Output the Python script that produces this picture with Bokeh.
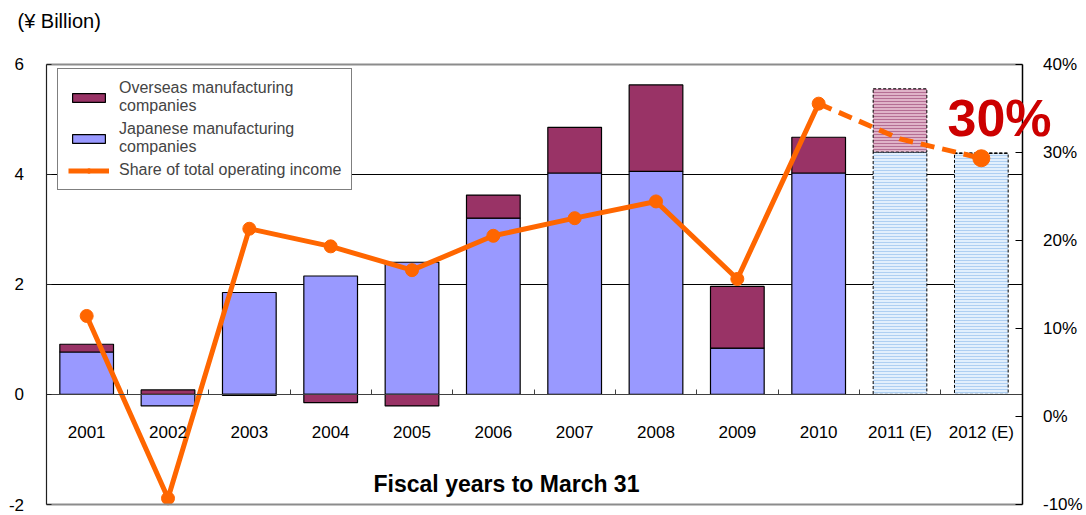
from bokeh.plotting import figure
from bokeh.models import (Range1d, LinearAxis, FixedTicker, Legend, LegendItem,
                          Label, ColumnDataSource)
from bokeh.embed import file_html
from bokeh.resources import INLINE
from bokeh.core.properties import value

# ---------------- data ----------------
years = ["2001", "2002", "2003", "2004", "2005", "2006", "2007", "2008",
         "2009", "2010", "2011 (E)", "2012 (E)"]
estimated = [False] * 10 + [True] * 2
japanese = [0.77, -0.21, 1.85, 2.15, 2.40, 3.20, 4.02, 4.05, 0.84, 4.02, 4.40, 4.38]
overseas = [0.14, 0.08, -0.02, -0.15, -0.21, 0.42, 0.83, 1.57, 1.12, 0.65, 1.15, 0.00]
share = [11.4, -9.3, 21.3, 19.3, 16.6, 20.5, 22.5, 24.4, 15.6, 35.5, 31.5, 29.3]
marked_forecast = ["2012 (E)"]

left_ticks = [-2, 0, 2, 4, 6]
left_labels = ["-2", "0", "2", "4", "6"]
grid_values = [2, 4]
pct_ticks = [-10, 0, 10, 20, 30, 40]
pct_labels = ["-10%", "0%", "10%", "20%", "30%", "40%"]
unit_text = "(¥ Billion)"
xaxis_title = "Fiscal years to March 31"
highlight_text = "30%"

FONT = "Liberation Sans"
JAP = "#9999FF"
OVS = "#993366"
ORANGE = "#FF6600"

# ---------------- layout (pixel frame of the chart area inside the canvas) ----------------
W, H = 1086, 515
FX0, FX1 = 45.5, 1021.5      # plot-area left / right (px)
FY_TOP, FY_BOT = 63.5, 504.0  # y=6 / y=-2 (px from top)
n = len(years)
ymin, ymax = left_ticks[0], left_ticks[-1]
pmin, pmax = pct_ticks[0], pct_ticks[-1]
xppu = (FX1 - FX0) / n
yppu = (FY_BOT - FY_TOP) / (ymax - ymin)
x_lo = 0.5 - FX0 / xppu
x_hi = n + 0.5 + (W - FX1) / xppu
y_hi = ymax + FY_TOP / yppu
y_lo = ymin - (H - FY_BOT) / yppu
k = (pmax - pmin) / (ymax - ymin)
p_lo = pmin + (y_lo - ymin) * k
p_hi = pmin + (y_hi - ymin) * k

# ---------------- derived ----------------
xs = list(range(1, n + 1))
jap_bottom = [0.0] * n
jap_top = japanese
ov_bottom = [max(j, 0) if o >= 0 else min(j, 0) for j, o in zip(japanese, overseas)]
ov_top = [b + o for b, o in zip(ov_bottom, overseas)]


def subset(flag):
    idx = [i for i, e in enumerate(estimated) if e == flag]
    return ColumnDataSource(dict(
        x=[xs[i] for i in idx],
        jb=[jap_bottom[i] for i in idx], jt=[jap_top[i] for i in idx],
        ob=[ov_bottom[i] for i in idx], ot=[ov_top[i] for i in idx],
    ))


act_src = subset(False)
est_src = subset(True)

n_act = estimated.index(True)
line_act = ColumnDataSource(dict(x=xs[:n_act], y=share[:n_act]))
line_est = ColumnDataSource(dict(x=xs[n_act - 1:], y=share[n_act - 1:]))
mk_idx = [years.index(y) for y in marked_forecast]
mark_est = ColumnDataSource(dict(x=[xs[i] for i in mk_idx], y=[share[i] for i in mk_idx]))

# ---------------- figure ----------------
p = figure(width=W, height=H, output_backend="svg", toolbar_location=None,
           x_range=Range1d(x_lo, x_hi), y_range=Range1d(y_lo, y_hi),
           x_axis_type=None, y_axis_type=None, min_border=0)
p.extra_y_ranges = {"pct": Range1d(p_lo, p_hi)}
p.background_fill_color = "white"
p.border_fill_color = "white"
p.outline_line_color = None
p.xgrid.visible = False
p.ygrid.visible = False

XB = (0.5, n + 0.5)


def hline_axis(loc, color, width, level):
    ax = LinearAxis(fixed_location=loc, bounds=XB, ticker=FixedTicker(ticks=[]),
                    axis_line_color=color, axis_line_width=width,
                    major_tick_line_color=None, minor_tick_line_color=None,
                    major_label_text_font_size="12px")
    ax.level = level
    p.add_layout(ax, "below")
    return ax


# horizontal gridlines (behind bars) and plot-area top / bottom edges
for g in grid_values:
    hline_axis(g, "black", 1, "underlay")
hline_axis(ymax, "#8c8c8c", 2, "guide")
hline_axis(ymin, "#8c8c8c", 2, "guide")

# zero line with category-boundary ticks
za = LinearAxis(fixed_location=0, bounds=XB,
                ticker=FixedTicker(ticks=[x + 0.5 for x in xs[:-1]]),
                major_label_overrides={x + 0.5: "" for x in xs[:-1]},
                axis_line_color="#404040", axis_line_width=1.2,
                major_tick_line_color="#404040", major_tick_in=5, major_tick_out=0,
                minor_tick_line_color=None)
p.add_layout(za, "below")

# left axis
ya = LinearAxis(fixed_location=0.5, bounds=(ymin, ymax),
                ticker=FixedTicker(ticks=left_ticks),
                major_label_overrides=dict(zip(left_ticks, left_labels)))
ya.major_label_text_font = FONT
ya.major_label_text_font_size = "17px"
ya.major_label_text_color = "black"
ya.major_label_standoff = 22
ya.major_tick_in = 5
ya.major_tick_out = 0
ya.minor_tick_line_color = None
ya.axis_line_color = "#202020"
ya.axis_line_width = 1.2
ya.major_tick_line_color = "#202020"
p.add_layout(ya, "left")

# right axis
ra = LinearAxis(y_range_name="pct", fixed_location=n + 0.5, bounds=(pmin, pmax),
                ticker=FixedTicker(ticks=pct_ticks),
                major_label_overrides=dict(zip(pct_ticks, pct_labels)))
ra.major_label_text_font = FONT
ra.major_label_text_font_size = "17px"
ra.major_label_text_color = "black"
ra.major_label_standoff = 21
ra.major_tick_in = 7
ra.major_tick_out = 0
ra.minor_tick_line_color = None
ra.axis_line_color = "black"
ra.axis_line_width = 1.5
ra.major_tick_line_color = "black"
p.add_layout(ra, "right")

# bars: actual
BW = 0.66
r_jap = p.vbar(x="x", bottom="jb", top="jt", width=BW, source=act_src,
               fill_color=JAP, line_color="black", line_width=1.2)
r_ovs = p.vbar(x="x", bottom="ob", top="ot", width=BW, source=act_src,
               fill_color=OVS, line_color="black", line_width=1.2)
# bars: estimates (hatched, dashed outline)
p.vbar(x="x", bottom="jb", top="jt", width=BW, source=est_src,
       fill_color="#e2effc", hatch_pattern="horizontal_line", hatch_color="#aecff2",
       hatch_scale=3, hatch_weight=1, line_color="black", line_width=1, line_dash="3 2")
p.vbar(x="x", bottom="ob", top="ot", width=BW, source=est_src,
       fill_color="#dfb3c8", hatch_pattern="horizontal_line", hatch_color="#b56e94",
       hatch_scale=3, hatch_weight=1, line_color="black", line_width=1, line_dash="3 2")

# share line
r_line = p.line(x="x", y="y", source=line_act, y_range_name="pct",
                line_color=ORANGE, line_width=5)
r_mk = p.scatter(x="x", y="y", source=line_act, y_range_name="pct", marker="circle",
                 size=13, fill_color=ORANGE, line_color=ORANGE)
p.line(x="x", y="y", source=line_est, y_range_name="pct",
       line_color=ORANGE, line_width=5, line_dash="14 8")
p.scatter(x="x", y="y", source=mark_est, y_range_name="pct", marker="circle",
          size=17, fill_color=ORANGE, line_color=ORANGE)

# category labels
p.text(x=xs, y=[-0.69] * n, text=years, text_font=value(FONT),
       text_font_size="17px", text_align="center", text_baseline="middle",
       text_color="black")

# texts (screen units, measured from the bottom-left of the canvas)
p.add_layout(Label(x=17, y=H - 20, x_units="screen", y_units="screen", text=unit_text,
                   text_font=FONT, text_font_size="20px", text_align="left",
                   text_baseline="middle", text_color="black"))
p.add_layout(Label(x=506, y=H - 483, x_units="screen", y_units="screen", text=xaxis_title,
                   text_font=FONT, text_font_size="23px", text_font_style="bold",
                   text_align="center", text_baseline="middle", text_color="black"))
p.add_layout(Label(x=947, y=H - 117, x_units="screen", y_units="screen", text=highlight_text,
                   text_font=FONT, text_font_size="52px", text_font_style="bold",
                   text_align="left", text_baseline="alphabetic", text_color="#CC0000"))

# legend
legend = Legend(items=[
    LegendItem(label="Overseas manufacturing\ncompanies", renderers=[r_ovs]),
    LegendItem(label="Japanese manufacturing\ncompanies", renderers=[r_jap]),
    LegendItem(label="Share of total operating income", renderers=[r_line, r_mk]),
], location=(57, H - 190))
legend.label_text_font = FONT
legend.label_text_font_size = "16px"
legend.label_text_line_height = 1.2
legend.glyph_width = 41
legend.glyph_height = 11
legend.label_standoff = 10
legend.padding = 10
legend.spacing = 5
legend.margin = 0
legend.border_line_color = "black"
legend.border_line_width = 1
legend.background_fill_alpha = 1
p.add_layout(legend, "center")

open("out.html", "w").write(file_html(p, INLINE))
